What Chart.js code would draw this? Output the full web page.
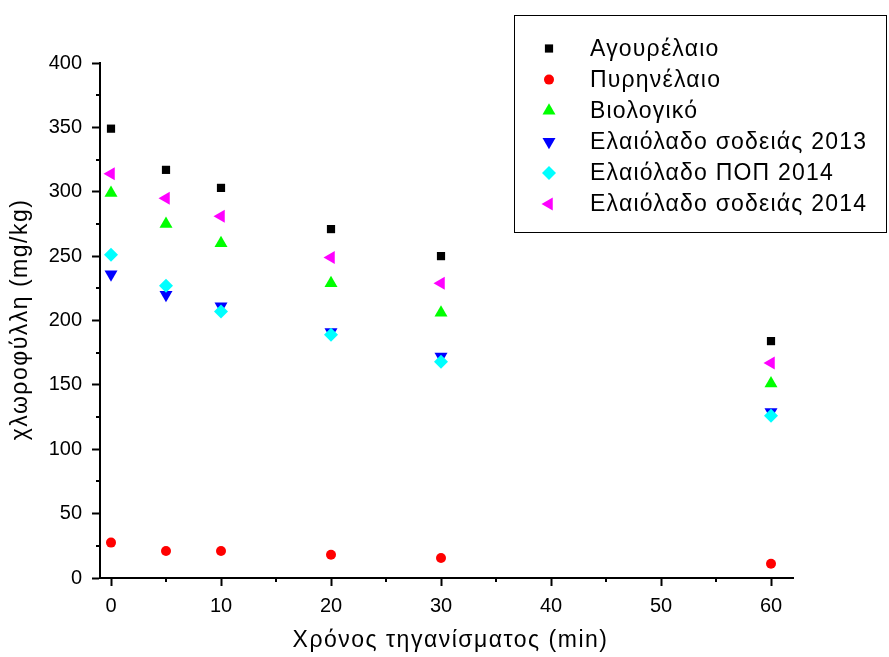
<!DOCTYPE html>
<html>
<head>
<meta charset="utf-8">
<script src="https://cdn.jsdelivr.net/npm/chart.js@4.4.1/dist/chart.umd.min.js"></script>
<style>
  html, body { margin: 0; padding: 0; background: #fff; }
  #wrap { width: 889px; height: 657px; }
</style>
</head>
<body>
<div id="wrap"><canvas id="chlorChart" width="889" height="657"></canvas></div>
<script>
// Χρόνος τηγανίσματος (min)
const times = [0, 5, 10, 20, 30, 60];

// χλωροφύλλη (mg/kg) ανά δείγμα
const agourelaio = [349, 317, 303, 271, 250, 184];
const pyrinelaio = [27.5, 21, 21, 18, 15.5, 11];
const viologiko = [299, 275, 260, 229, 206, 151];
const sodeia2013 = [236, 220, 211, 191, 172, 129];
const pop2014 = [251, 227, 207, 189, 168, 126];
const sodeia2014 = [314, 295, 281, 249, 229, 167];

const seriesNames = ['Αγουρέλαιο', 'Πυρηνέλαιο', 'Βιολογικό', 'Ελαιόλαδο σοδειάς 2013', 'Ελαιόλαδο ΠΟΠ 2014', 'Ελαιόλαδο σοδειάς 2014'];
const seriesValues = [agourelaio, pyrinelaio, viologiko, sodeia2013, pop2014, sodeia2014];

const xTicks = [0, 10, 20, 30, 40, 50, 60];
const yTicks = [0, 50, 100, 150, 200, 250, 300, 350, 400];

const xTitle = 'Χρόνος τηγανίσματος (min)';
const yTitle = 'χλωροφύλλη (mg/kg)';

const colors = ['#000000', '#ff0000', '#00ff00', '#0000ff', '#00ffff', '#ff00ff'];
const styles = ['rect', 'circle', 'triangle', 'triangle', 'rectRot', 'triangle'];
const rotations = [0, 0, 0, 180, 0, 270];
const radii = [5.8, 5, 7.5, 7.5, 7, 7.5];

const FONT = "'Liberation Sans', Arial, sans-serif";

const datasets = seriesValues.map(function (vals, i) {
    return {
        label: seriesNames[i],
        data: times.map(function (t, j) { return { x: t, y: vals[j] }; }),
        showLine: false,
        pointStyle: styles[i],
        rotation: rotations[i],
        pointRadius: radii[i],
        pointHoverRadius: radii[i],
        pointBackgroundColor: colors[i],
        pointBorderColor: colors[i],
        pointBorderWidth: 0,
        order: seriesValues.length - i   // later series drawn on top
    };
});

// minor ticks halfway between the major ones
const minorTicks = {
    id: 'minorTicks',
    afterDraw(chart) {
        const ctx = chart.ctx;
        const xs = chart.scales.x, ys = chart.scales.y;
        ctx.save();
        ctx.strokeStyle = '#000';
        ctx.lineWidth = 2;
        ctx.beginPath();
        for (let i = 0; i < xTicks.length; i++) {
            const v = xTicks[i] + 5;
            if (v > xs.max) continue;
            const px = Math.round(xs.getPixelForValue(v));
            ctx.moveTo(px, xs.top);
            ctx.lineTo(px, xs.top + 4);
        }
        for (let i = 0; i < yTicks.length - 1; i++) {
            const py = Math.round(ys.getPixelForValue(yTicks[i] + 25));
            ctx.moveTo(ys.right, py);
            ctx.lineTo(ys.right - 4, py);
        }
        ctx.stroke();
        ctx.restore();
    }
};

// axis titles (drawn here so the wide letter spacing of the original can be kept)
const axisTitles = {
    id: 'axisTitles',
    afterDraw(chart) {
        const ctx = chart.ctx;
        const area = chart.chartArea;
        ctx.save();
        ctx.fillStyle = '#000';
        ctx.font = '23px ' + FONT;
        ctx.letterSpacing = '1.5px';
        ctx.textAlign = 'center';
        ctx.textBaseline = 'middle';
        ctx.fillText(xTitle, (area.left + area.right) / 2 + 4, 640.5);
        ctx.translate(21, (area.top + area.bottom) / 2);
        ctx.rotate(-Math.PI / 2);
        ctx.fillText(yTitle, 1, 0);
        ctx.restore();
    }
};

// legend in a framed box, top right
const boxLegend = {
    id: 'boxLegend',
    afterDraw(chart) {
        const ctx = chart.ctx;
        ctx.save();
        ctx.strokeStyle = '#000';
        ctx.lineWidth = 1;
        ctx.strokeRect(514.5, 15.5, 372, 217);
        ctx.font = '23px ' + FONT;
        ctx.letterSpacing = '1.2px';
        ctx.textBaseline = 'middle';
        ctx.textAlign = 'left';
        chart.data.datasets.forEach(function (ds, i) {
            const y = 48.5 + i * 31.1;
            ctx.fillStyle = colors[i];
            Chart.helpers.drawPoint(ctx, {
                pointStyle: styles[i],
                rotation: rotations[i],
                radius: radii[i],
                borderWidth: 0
            }, 549, y);
            ctx.fillStyle = '#000';
            ctx.fillText(ds.label, 590, y + 1);
        });
        ctx.restore();
    }
};

new Chart(document.getElementById('chlorChart'), {
    type: 'scatter',
    data: { datasets: datasets },
    options: {
        responsive: false,
        animation: false,
        layout: { padding: { top: 63, right: 96, left: 0, bottom: 0 } },
        plugins: {
            legend: { display: false },
            tooltip: { enabled: false }
        },
        scales: {
            x: {
                type: 'linear',
                min: -1,
                max: 62,
                afterFit: function (scale) { scale.height = 79; },
                afterBuildTicks: function (scale) {
                    scale.ticks = xTicks.map(function (v) { return { value: v }; });
                },
                border: { display: true, color: '#000', width: 2 },
                grid: { drawOnChartArea: false, drawTicks: true, tickLength: 8, tickWidth: 2, tickColor: '#000' },
                ticks: { color: '#000', font: { family: FONT, size: 20 }, padding: 8, maxRotation: 0 }
            },
            y: {
                type: 'linear',
                min: 0,
                max: 400,
                afterFit: function (scale) { scale.width = 100; },
                afterBuildTicks: function (scale) {
                    scale.ticks = yTicks.map(function (v) { return { value: v }; });
                },
                border: { display: true, color: '#000', width: 2 },
                grid: { drawOnChartArea: false, drawTicks: true, tickLength: 8, tickWidth: 2, tickColor: '#000' },
                ticks: { color: '#000', font: { family: FONT, size: 20 }, padding: 10 }
            }
        }
    },
    plugins: [minorTicks, axisTitles, boxLegend]
});
</script>
</body>
</html>
